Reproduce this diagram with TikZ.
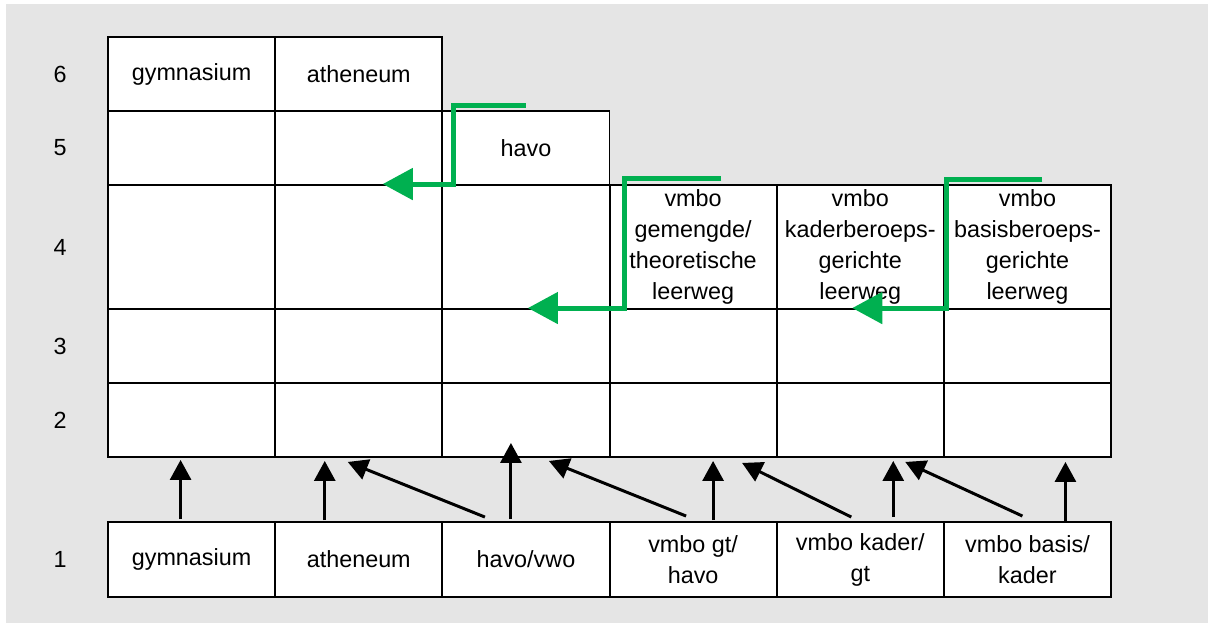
\documentclass[tikz,border=0pt]{standalone}
\usepackage{fontspec}
\setmainfont{Liberation Sans}
\usetikzlibrary{arrows.meta,calc}
\definecolor{bggray}{RGB}{229,229,229}
\definecolor{routegreen}{RGB}{0,176,80}
\tikzset{
  cell/.style={draw, fill=white, line width=1.1pt, inner sep=0pt,
    minimum width=3.343cm, minimum height=1.48cm, align=center,
    font=\fontsize{13.3}{17.6}\selectfont},
  tallcell/.style={cell, minimum height=2.48cm},
  startcell/.style={cell, minimum height=1.5cm},
  yearlabel/.style={font=\fontsize{13.3}{17.6}\selectfont},
  up/.style={line width=1.7pt, -{Triangle[length=0.4cm,width=0.42cm]}},
  route/.style={draw=routegreen, line width=2.8pt, line join=miter,
    -{Triangle[length=0.6cm,width=0.62cm]}}
}
\begin{document}
\begin{tikzpicture}[x=0.02cm, y=-0.02cm]
\useasboundingbox (0,0) rectangle (1210,625);
\fill[bggray] (6,4) rectangle (1208,623);

\foreach \r/\y in {6/74, 5/148, 4/247, 3/346, 2/420, 1/559}
  \node[yearlabel] (l\r) at (60,\y) {\r};

\foreach \r/\y in {2/420, 3/346}
  \foreach \c in {1,...,6}
    \node[cell] (c\r\c) at ({108+167.17*(\c-0.5)},\y) {};

\foreach \c/\t in {1/{}, 2/{}, 3/{},
    4/{vmbo\\gemengde/\\theoretische\\leerweg},
    5/{vmbo\\kaderberoeps-\\gerichte\\leerweg},
    6/{vmbo\\basisberoeps-\\gerichte\\leerweg}}
  \node[tallcell] (c4\c) at ({108+167.17*(\c-0.5)},247) {\rule{0pt}{9pt}\t};

\foreach \c/\t in {1/{}, 2/{}, 3/havo}
  \node[cell] (c5\c) at ({108+167.17*(\c-0.5)},148) {\t};

\foreach \c/\t in {1/gymnasium, 2/atheneum}
  \node[cell] (c6\c) at ({108+167.17*(\c-0.5)},74) {\t};

\foreach \c/\t in {1/gymnasium, 2/atheneum, 3/{havo/vwo},
    4/{vmbo gt/\\havo}, 5/{vmbo kader/\\gt}, 6/{vmbo basis/\\kader}}
  \node[startcell] (b\c) at ({108+167.17*(\c-0.5)},559.5) {\t};

\draw[up] ($(b1.north)+(-11,-2)$) -- ($(c21.south)+(-11,2)$);
\draw[up] ($(b2.north)+(-34,-1)$) -- ($(c22.south)+(-34,3)$);
\draw[up] ($(b3.north)+(-15,-2)$) -- ($(c23.south)+(-15,-15)$);
\draw[up] ($(b4.north)+(20,-1)$) -- ($(c24.south)+(20,3)$);
\draw[up] ($(b5.north)+(33,-4)$) -- ($(c25.south)+(33,3)$);
\draw[up] ($(b6.north)+(38,1)$) -- ($(c26.south)+(38,4)$);

\draw[up] ($(b3.north)+(-41,-4)$) -- ($(c22.south)+(-11,4)$);
\draw[up] ($(b4.north)+(-7,-5)$) -- ($(c23.south)+(23,3)$);
\draw[up] ($(b5.north)+(-9,-4)$) -- ($(c24.south)+(49,5)$);
\draw[up] ($(b6.north)+(-5,-5)$) -- ($(c25.south)+(45,4)$);

\draw[route] ($(c53.north)+(0,-5)$) -- ++(-72,0) |- ($(c42.north)+(24,0)$);
\draw[route] ($(c44.north)+(28,-6)$) -- ++(-97,0) |- ($(c33.north)+(2,0)$);
\draw[route] ($(c46.north)+(15,-5)$) -- ++(-96,0) |- ($(c35.north)+(-8,0)$);
\end{tikzpicture}
\end{document}
